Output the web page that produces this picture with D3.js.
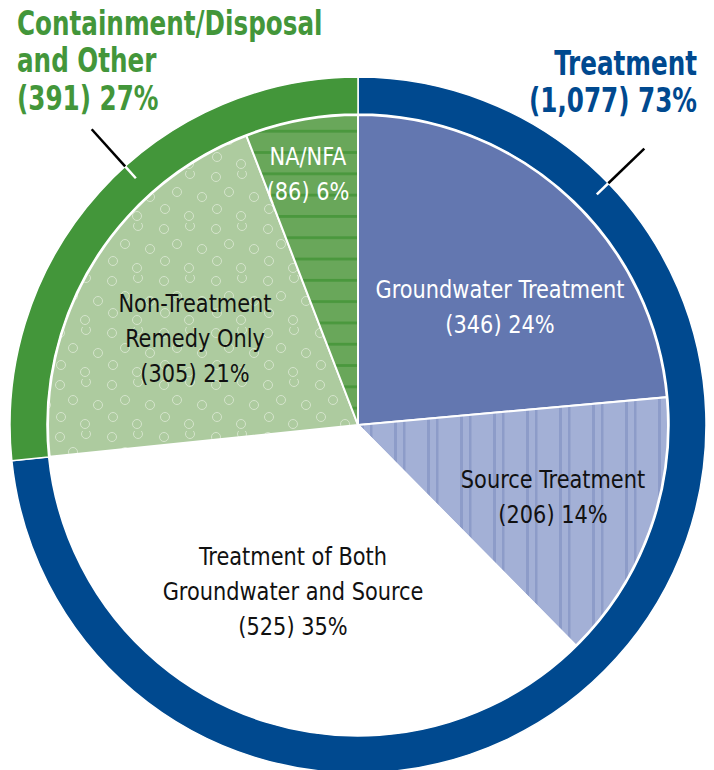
<!DOCTYPE html>
<html>
<head>
<meta charset="utf-8">
<script src="https://cdn.jsdelivr.net/npm/d3@7"></script>
<style>
  body { margin: 0; background: #fff; }
  svg text { font-family: "DejaVu Sans Condensed", "DejaVu Sans", sans-serif; font-stretch: condensed; }
</style>
</head>
<body>
<div class="panel"></div>
<script>
// Data

const categories = [
    ["Groundwater Treatment"],
    ["Source Treatment"],
    ["Treatment of Both", "Groundwater and Source"],
    ["Non-Treatment", "Remedy Only"],
    ["NA/NFA"]
];
const counts = [346, 206, 525, 305, 86];
const percents = [24, 14, 35, 21, 6];

const groups = [["Treatment"], ["Containment/Disposal", "and Other"]];
const groupCounts = [1077, 391];
const groupPercents = [73, 27];

// Chart

const params = { width: 714, height: 770, cx: 358, cy: 425, r: 310, ringIn: 311, ringOut: 348 };

const svg = d3.select(".panel").append("svg")
    .attr("width", params.width)
    .attr("height", params.height)
    .attr("viewBox", [0, 0, params.width, params.height]);

const defs = svg.append("defs");

// vertical stripes (source treatment)
const pStripe = defs.append("pattern")
    .attr("id", "vstripe")
    .attr("patternUnits", "userSpaceOnUse")
    .attr("width", 33).attr("height", 10)
    .attr("x", 3);
pStripe.append("rect").attr("width", 33).attr("height", 10).attr("fill", "#a3b0d6");
[[0, 3], [9, 2.5]].forEach(([x, w]) => {
    pStripe.append("rect").attr("x", x).attr("width", w).attr("height", 10).attr("fill", "#8d9cc9");
});

// horizontal stripes (NA/NFA)
const pH = defs.append("pattern")
    .attr("id", "hstripe")
    .attr("patternUnits", "userSpaceOnUse")
    .attr("width", 10).attr("height", 21.3)
    .attr("y", 3);
pH.append("rect").attr("width", 10).attr("height", 21.3).attr("fill", "#69a75a");
pH.append("rect").attr("y", 0).attr("width", 10).attr("height", 2.8).attr("fill", "#4a983d");

// circles (non-treatment)
const pC = defs.append("pattern")
    .attr("id", "dots")
    .attr("patternUnits", "userSpaceOnUse")
    .attr("width", 52).attr("height", 52)
    .attr("x", 8).attr("y", 6);
pC.append("rect").attr("width", 52).attr("height", 52).attr("fill", "#adcb9f");
[[6, 6], [32, 3], [19, 21], [44, 26], [7, 38], [31, 45]].forEach(([x, y]) => {
    pC.append("circle").attr("cx", x).attr("cy", y).attr("r", 4.5)
        .attr("fill", "none").attr("stroke", "#d4e4cb").attr("stroke-width", 1);
});

const fills = ["#6377b0", "url(#vstripe)", "#ffffff", "url(#dots)", "url(#hstripe)"];
const textColors = ["#ffffff", "#111111", "#111111", "#111111", "#ffffff"];
const groupColors = ["#00498f", "#43963a"];

const g = svg.append("g").attr("transform", `translate(${params.cx},${params.cy})`);

const pie = d3.pie().sort(null).value(d => d);

// Ring
const ringArc = d3.arc().innerRadius(params.ringIn).outerRadius(params.ringOut);
g.selectAll(".ring")
    .data(pie(groupCounts))
    .enter().append("path")
    .attr("class", "ring")
    .attr("d", ringArc)
    .attr("fill", (d, i) => groupColors[i])
    .attr("stroke", "#fff")
    .attr("stroke-width", 1.5);

// Slices
const arc = d3.arc().innerRadius(0).outerRadius(params.r);
const slices = pie(counts);
g.selectAll(".slice")
    .data(slices)
    .enter().append("path")
    .attr("class", "slice")
    .attr("d", arc)
    .attr("fill", (d, i) => fills[i])
    .attr("stroke", "#fff")
    .attr("stroke-width", 2);

// Slice labels
const labelPos = [[142, -127], [195, 63], [-65, 140], [-163, -113], [-50, -260]];
const lineH = 35;
slices.forEach((d, i) => {
    const lines = categories[i].concat([`(${counts[i]}) ${percents[i]}%`]);
    const t = g.append("text")
        .attr("text-anchor", "middle")
        .attr("font-size", 25)
        .attr("fill", textColors[i])
        .attr("transform", `translate(${labelPos[i][0]},${labelPos[i][1]}) scale(0.93,1)`);
    lines.forEach((s, j) => {
        t.append("tspan").attr("x", 0).attr("y", j * lineH).text(s);
    });
});

// Leader lines
const leaderAngles = [46, 318];
leaderAngles.forEach(a => {
    const rad = a * Math.PI / 180;
    const pt = r => [r * Math.sin(rad), -r * Math.cos(rad)];
    g.append("line")
        .attr("x1", pt(332)[0]).attr("y1", pt(332)[1])
        .attr("x2", pt(348)[0]).attr("y2", pt(348)[1])
        .attr("stroke", "#fff").attr("stroke-width", 2.5);
    g.append("line")
        .attr("x1", pt(348)[0]).attr("y1", pt(348)[1])
        .attr("x2", pt(398)[0]).attr("y2", pt(398)[1])
        .attr("stroke", "#000").attr("stroke-width", 2.5);
});

// Group titles
const titlePos = [{ x: 697, y: 75, anchor: "end" }, { x: 17, y: 35, anchor: "start" }];
groups.forEach((lines, i) => {
    const all = lines.concat([`(${groupCounts[i].toLocaleString("en-US")}) ${groupPercents[i]}%`]);
    const t = svg.append("text")
        .attr("text-anchor", titlePos[i].anchor)
        .attr("font-size", 33)
        .attr("font-weight", "bold")
        .attr("fill", groupColors[i])
        .attr("transform", `translate(${titlePos[i].x},${titlePos[i].y}) scale(0.83,1)`);
    all.forEach((s, j) => {
        t.append("tspan").attr("x", 0).attr("y", j * 37.5).text(s);
    });
});
</script>
</body>
</html>
